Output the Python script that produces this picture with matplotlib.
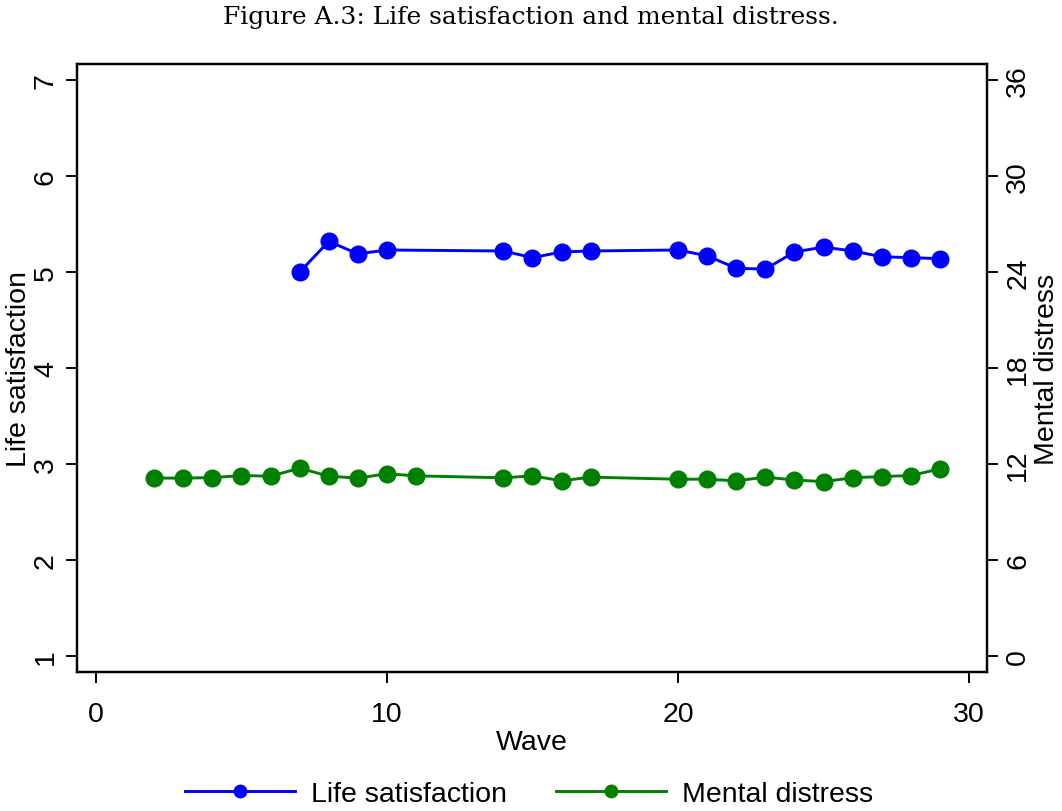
import numpy as np
import matplotlib.pyplot as plt
from matplotlib.lines import Line2D

# waves and series means
waves_ls = [7, 8, 9, 10, 14, 15, 16, 17, 20, 21, 22, 23, 24, 25, 26, 27, 28, 29]
life_sat = [5.00, 5.32, 5.19, 5.23, 5.22, 5.15, 5.21, 5.22, 5.23, 5.17,
            5.04, 5.03, 5.21, 5.26, 5.22, 5.16, 5.15, 5.14]

waves_md = [2, 3, 4, 5, 6, 7, 8, 9, 10, 11, 14, 15, 16, 17, 20, 21, 22, 23,
            24, 25, 26, 27, 28, 29]
mental = [11.11, 11.11, 11.14, 11.27, 11.23, 11.73, 11.23, 11.11, 11.38, 11.25,
          11.13, 11.25, 10.94, 11.17, 11.04, 11.04, 10.94, 11.17, 10.99, 10.89,
          11.13, 11.21, 11.27, 11.69]

left_ticks = [1, 2, 3, 4, 5, 6, 7]
right_ticks = [0, 6, 12, 18, 24, 30, 36]
x_ticks = [0, 10, 20, 30]

plt.rcParams['font.family'] = ['Liberation Sans', 'DejaVu Sans']
fs = 20.5

fig = plt.figure(figsize=(10.62, 8.12), dpi=100)
ax = fig.add_axes([0.0725, 0.1712, 0.857, 0.7488])
ax2 = ax.twinx()

ax.plot(waves_ls, life_sat, color='#0000ff', lw=2.1, marker='o', ms=12, zorder=3)
ax2.plot(waves_md, mental, color='#008000', lw=2.1, marker='o', ms=12, zorder=3)

ax.set_xlim(-0.65, 30.62)
ax.set_ylim(0.83, 7.17)
ax2.set_ylim((0.83 - 1) * 6, (7.17 - 1) * 6)

ax.set_xticks(x_ticks)
ax.set_yticks(left_ticks)
ax2.set_yticks(right_ticks)
ax.set_yticklabels([str(t) for t in left_ticks], rotation=90, va='center')
ax2.set_yticklabels([str(t) for t in right_ticks], rotation=90, va='center')

for a in (ax, ax2):
    a.tick_params(direction='out', length=8, width=1.4, labelsize=fs, pad=5)
    for s in a.spines.values():
        s.set_linewidth(1.6)
ax.tick_params(axis='x', pad=13)

ax.set_xlabel('Wave', fontsize=fs, labelpad=1)
ax.set_ylabel('Life satisfaction', fontsize=fs, labelpad=1)
ax2.set_ylabel('Mental distress', fontsize=fs, rotation=90, labelpad=2)

fig.text(0.5, 0.979, 'Figure A.3: Life satisfaction and mental distress.',
         ha='center', va='center', fontsize=17.9, family=['DejaVu Serif'])

handles = [Line2D([], [], color='#0000ff', lw=2.1, marker='o', ms=9),
           Line2D([], [], color='#008000', lw=2.1, marker='o', ms=9)]
fig.legend(handles, ['Life satisfaction', 'Mental distress'], loc='center',
           bbox_to_anchor=(0.498, 0.021), ncol=2, frameon=False, fontsize=fs,
           handlelength=3.86, columnspacing=1.72, handletextpad=0.56)

fig.savefig('out.png', dpi=100)
